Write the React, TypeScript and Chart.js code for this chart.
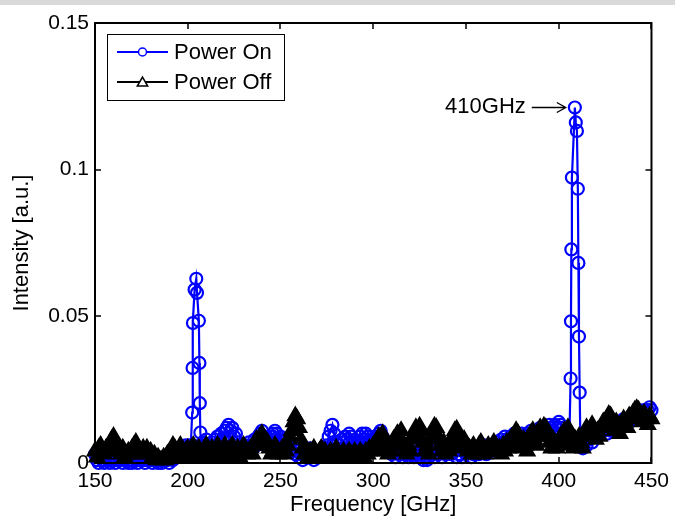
import React, { useEffect, useRef } from 'react';
import { Chart, registerables } from 'chart.js';

Chart.register(...registerables);

// ---- data ----
const FREQ_START = 150; // GHz, first sample of the regular grid
const FREQ_STEP = 1; // GHz between grid samples

// Power Off (black triangles), 150..450 GHz
const POWER_OFF = [
  // 150–200
  0.004, 0.002, 0.005, 0.006, 0.004, 0.003, 0.005, 0.004, 0.006, 0.008,
  0.009, 0.007, 0.006, 0.004, 0.003, 0.005, 0.002, 0.003, 0.004, 0.003,
  0.005, 0.006, 0.007, 0.005, 0.004, 0.003, 0.005, 0.004, 0.005, 0.003,
  0.004, 0.002, 0.003, 0.001, 0.002, 0.001, 0.001, 0.002, 0.001, 0.003,
  0.002, 0.004, 0.006, 0.005, 0.003, 0.004, 0.006, 0.003, 0.002, 0.004,
  0.005,
  // 201–250
  0.003, 0.005, 0.006, 0.002, 0.004, 0.005, 0.003, 0.002, 0.005, 0.006,
  0.004, 0.003, 0.005, 0.002, 0.004, 0.006, 0.005, 0.003, 0.004, 0.006,
  0.003, 0.002, 0.005, 0.006, 0.004, 0.003, 0.005, 0.002, 0.004, 0.006,
  0.005, 0.003, 0.004, 0.005, 0.003, 0.006, 0.008, 0.007, 0.009, 0.010,
  0.008, 0.006, 0.007, 0.005, 0.003, 0.004, 0.006, 0.005, 0.003, 0.004,
  // 251–300
  0.005, 0.003, 0.004, 0.006, 0.009, 0.011, 0.014, 0.016, 0.015, 0.012,
  0.008, 0.005, 0.003, 0.004, 0.002, 0.004, 0.003, 0.005, 0.003, 0.002,
  0.004, 0.005, 0.003, 0.004, 0.002, 0.003, 0.004, 0.002, 0.003, 0.005,
  0.004, 0.002, 0.003, 0.004, 0.002, 0.003, 0.004, 0.003, 0.002, 0.004,
  0.003, 0.002, 0.004, 0.003, 0.002, 0.004, 0.003, 0.005, 0.004, 0.006,
  // 301–350
  0.004, 0.007, 0.009, 0.006, 0.010, 0.008, 0.005, 0.003, 0.006, 0.004,
  0.008, 0.006, 0.010, 0.009, 0.011, 0.007, 0.004, 0.003, 0.006, 0.004,
  0.008, 0.010, 0.012, 0.009, 0.0125, 0.011, 0.007, 0.004, 0.006, 0.003,
  0.008, 0.011, 0.0125, 0.012, 0.009, 0.006, 0.004, 0.007, 0.003, 0.005,
  0.004, 0.006, 0.009, 0.011, 0.0115, 0.010, 0.007, 0.005, 0.008, 0.006,
  // 351–400
  0.004, 0.005, 0.003, 0.006, 0.004, 0.003, 0.006, 0.007, 0.005, 0.003,
  0.004, 0.006, 0.004, 0.005, 0.007, 0.006, 0.004, 0.005, 0.003, 0.006,
  0.004, 0.007, 0.005, 0.008, 0.009, 0.006, 0.011, 0.010, 0.007, 0.005,
  0.008, 0.006, 0.004, 0.009, 0.010, 0.011, 0.008, 0.006, 0.009, 0.012,
  0.011, 0.0125, 0.012, 0.009, 0.007, 0.005, 0.008, 0.006, 0.005, 0.007,
  // 401–450
  0.009, 0.006, 0.011, 0.009, 0.012, 0.010, 0.007, 0.005, 0.008, 0.006,
  0.009, 0.007, 0.005, 0.010, 0.012, 0.009, 0.011, 0.013, 0.010, 0.008,
  0.011, 0.009, 0.012, 0.014, 0.013, 0.015, 0.0165, 0.016, 0.013, 0.011,
  0.014, 0.012, 0.010, 0.013, 0.015, 0.014, 0.012, 0.016, 0.015, 0.017,
  0.018, 0.0185, 0.018, 0.016, 0.014, 0.017, 0.015, 0.013, 0.016, 0.015,
];

// Power On (blue circles) on the same grid; null where the finely sampled peaks take over
const POWER_ON_BASE = [
  // 150–200
  0.003, 0.001, 0.000, 0.002, 0.001, 0.000, 0.002, 0.001, 0.000, 0.001,
  0.002, 0.000, 0.001, 0.002, 0.001, 0.000, 0.001, 0.002, 0.000, 0.001,
  0.000, 0.002, 0.001, 0.000, 0.001, 0.002, 0.001, 0.000, 0.001, 0.002,
  0.001, 0.000, 0.002, 0.001, 0.000, 0.001, 0.000, 0.001, 0.002, 0.001,
  0.000, 0.002, 0.001, 0.003, 0.002, 0.004, 0.003, 0.005, 0.004, 0.006,
  0.005,
  // 201–250
  0.006, null, null, null, null, null, null, 0.007, 0.005, 0.008,
  0.006, 0.004, 0.007, 0.005, 0.008, 0.009, 0.007, 0.010, 0.008, 0.011,
  0.012, 0.013, 0.011, 0.012, 0.009, 0.010, 0.007, 0.005, 0.006, 0.004,
  0.006, 0.005, 0.007, 0.004, 0.006, 0.008, 0.006, 0.009, 0.010, 0.011,
  0.009, 0.007, 0.008, 0.006, 0.009, 0.010, 0.011, 0.010, 0.008, 0.009,
  // 251–300
  0.007, 0.006, 0.008, 0.005, 0.006, 0.004, 0.005, 0.003, 0.004, 0.002,
  0.003, 0.001, 0.003, 0.004, 0.002, 0.005, 0.003, 0.001, 0.002, 0.004,
  0.002, 0.003, 0.005, 0.004, 0.006, 0.009, 0.011, 0.013, 0.010, 0.007,
  0.005, 0.006, 0.008, 0.007, 0.009, 0.008, 0.010, 0.009, 0.007, 0.008,
  0.006, 0.007, 0.009, 0.010, 0.008, 0.010, 0.009, 0.007, 0.006, 0.008,
  // 301–350
  0.009, 0.007, 0.010, 0.011, 0.009, 0.007, 0.005, 0.006, 0.004, 0.003,
  0.005, 0.002, 0.004, 0.003, 0.005, 0.002, 0.003, 0.004, 0.002, 0.003,
  0.005, 0.002, 0.003, 0.004, 0.002, 0.003, 0.001, 0.002, 0.001, 0.002,
  0.003, 0.004, 0.002, 0.005, 0.003, 0.004, 0.002, 0.005, 0.003, 0.004,
  0.006, 0.003, 0.005, 0.004, 0.002, 0.003, 0.005, 0.002, 0.004, 0.003,
  // 351–400
  0.005, 0.004, 0.002, 0.003, 0.005, 0.004, 0.003, 0.005, 0.004, 0.006,
  0.003, 0.005, 0.004, 0.006, 0.005, 0.007, 0.005, 0.006, 0.008, 0.007,
  0.009, 0.008, 0.007, 0.009, 0.008, 0.010, 0.009, 0.008, 0.009, 0.010,
  0.008, 0.009, 0.010, 0.009, 0.011, 0.010, 0.009, 0.011, 0.010, 0.012,
  0.011, 0.010, 0.012, 0.011, 0.013, 0.012, 0.011, 0.013, 0.012, 0.014,
  // 401–450
  0.013, 0.012, 0.010, 0.011, 0.009, null, null, null, null, null,
  null, 0.006, 0.005, 0.007, 0.006, 0.008, 0.009, 0.007, 0.010, 0.009,
  0.011, 0.010, 0.012, 0.011, 0.013, 0.010, 0.012, 0.011, 0.013, 0.012,
  0.014, 0.013, 0.012, 0.014, 0.015, 0.013, 0.015, 0.014, 0.016, 0.015,
  0.017, 0.016, 0.018, 0.017, 0.016, 0.018, 0.017, 0.018, 0.019, 0.018,
];

// finely sampled Power On peaks
const PEAK1_FREQ = [201.6, 202.4, 202.6, 202.8, 203.7, 204.6, 205.0, 206.0, 206.3, 206.5, 206.8, 207.4];
const PEAK1_ON = [0.005, 0.0172, 0.0324, 0.0477, 0.0591, 0.0628, 0.058, 0.0485, 0.0341, 0.0204, 0.0104, 0.006];
const PEAK2_FREQ = [405.8, 406.4, 406.6, 406.8, 407.1, 408.7, 409.2, 409.8, 410.3, 410.6, 410.9, 411.3, 411.7];
const PEAK2_ON = [0.010, 0.0288, 0.0483, 0.0728, 0.0973, 0.1212, 0.1161, 0.1132, 0.0935, 0.0682, 0.0431, 0.024, 0.006];

const SERIES_LABELS = ['Power On', 'Power Off'];
const X_TICKS = [150, 200, 250, 300, 350, 400, 450];
const Y_TICKS = [0, 0.05, 0.1, 0.15];
const X_TITLE = 'Frequency [GHz]';
const Y_TITLE = 'Intensity [a.u.]';
const ANNOTATION_TEXT = '410GHz';
const ANNOTATION_TIP = { x: 403.8, y: 0.1212 }; // where the arrow points

// ---- styling ----
const FONT_FAMILY = '"Liberation Sans", Arial, Helvetica, sans-serif';
const BLUE = '#0000ff';
const BLACK = '#000000';

function buildOnPoints() {
  const pts: { x: number; y: number }[] = [];
  POWER_ON_BASE.forEach((v, i) => {
    if (v !== null) pts.push({ x: FREQ_START + i * FREQ_STEP, y: v as number });
  });
  PEAK1_FREQ.forEach((f, i) => pts.push({ x: f, y: PEAK1_ON[i] }));
  PEAK2_FREQ.forEach((f, i) => pts.push({ x: f, y: PEAK2_ON[i] }));
  pts.sort((a, b) => a.x - b.x);
  return pts;
}

function buildOffPoints() {
  return POWER_OFF.map((v, i) => ({ x: FREQ_START + i * FREQ_STEP, y: v }));
}

function drawTriangle(ctx: CanvasRenderingContext2D, x: number, y: number, r: number) {
  ctx.beginPath();
  for (let k = 0; k < 3; k++) {
    const a = (k * 2 * Math.PI) / 3;
    const px = x + Math.sin(a) * r;
    const py = y - Math.cos(a) * r;
    if (k === 0) ctx.moveTo(px, py);
    else ctx.lineTo(px, py);
  }
  ctx.closePath();
}

const overlayPlugin = {
  id: 'matlabOverlay',
  afterDraw(chart: any) {
    const { ctx, chartArea: a, scales } = chart;
    const xs = scales.x;
    const ys = scales.y;
    ctx.save();

    // axes box
    ctx.strokeStyle = BLACK;
    ctx.lineWidth = 2;
    ctx.strokeRect(a.left, a.top, a.right - a.left, a.bottom - a.top);

    // inward tick marks on all four sides
    const TL = 6;
    ctx.lineWidth = 1.5;
    ctx.beginPath();
    X_TICKS.forEach((v) => {
      const x = Math.round(xs.getPixelForValue(v));
      ctx.moveTo(x, a.bottom);
      ctx.lineTo(x, a.bottom - TL);
      ctx.moveTo(x, a.top);
      ctx.lineTo(x, a.top + TL);
    });
    Y_TICKS.forEach((v) => {
      const y = Math.round(ys.getPixelForValue(v));
      ctx.moveTo(a.left, y);
      ctx.lineTo(a.left + TL, y);
      ctx.moveTo(a.right, y);
      ctx.lineTo(a.right - TL, y);
    });
    ctx.stroke();

    // legend
    const bx = a.left + 12;
    const by = a.top + 11;
    const bw = 177;
    const bh = 66;
    ctx.fillStyle = '#ffffff';
    ctx.fillRect(bx, by, bw, bh);
    ctx.strokeStyle = BLACK;
    ctx.lineWidth = 1;
    ctx.strokeRect(bx + 0.5, by + 0.5, bw, bh);
    const rows = [by + 18, by + 48];
    ctx.font = `22px ${FONT_FAMILY}`;
    ctx.textBaseline = 'middle';
    ctx.textAlign = 'left';
    chart.data.datasets.forEach((ds: any, i: number) => {
      const y = rows[i];
      ctx.strokeStyle = ds.borderColor;
      ctx.lineWidth = 2;
      ctx.beginPath();
      ctx.moveTo(bx + 10, y);
      ctx.lineTo(bx + 61, y);
      ctx.stroke();
      ctx.fillStyle = '#ffffff';
      ctx.lineWidth = 1.5;
      if (ds.pointStyle === 'triangle') {
        drawTriangle(ctx, bx + 35.5, y + 1, 6);
      } else {
        ctx.beginPath();
        ctx.arc(bx + 35.5, y, 4, 0, Math.PI * 2);
      }
      ctx.fill();
      ctx.stroke();
      ctx.fillStyle = BLACK;
      ctx.fillText(ds.label, bx + 67, y + 1);
    });

    // annotation with arrow
    const tx = xs.getPixelForValue(ANNOTATION_TIP.x);
    const ty = ys.getPixelForValue(ANNOTATION_TIP.y);
    ctx.strokeStyle = BLACK;
    ctx.lineWidth = 1.3;
    ctx.beginPath();
    ctx.moveTo(tx - 34, ty);
    ctx.lineTo(tx, ty);
    ctx.moveTo(tx - 9, ty - 5);
    ctx.lineTo(tx, ty);
    ctx.lineTo(tx - 9, ty + 5);
    ctx.stroke();
    ctx.fillStyle = BLACK;
    ctx.textAlign = 'right';
    ctx.textBaseline = 'middle';
    ctx.font = `22px ${FONT_FAMILY}`;
    ctx.fillText(ANNOTATION_TEXT, tx - 40, ty - 1);

    ctx.restore();
  },
};

export default function App() {
  const canvasRef = useRef<HTMLCanvasElement | null>(null);

  useEffect(() => {
    if (!canvasRef.current) return;
    const tickFont = { family: FONT_FAMILY, size: 21 };
    const titleFont = { family: FONT_FAMILY, size: 22 };
    const chart = new Chart(canvasRef.current, {
      type: 'line',
      data: {
        datasets: [
          {
            label: SERIES_LABELS[0],
            data: buildOnPoints(),
            borderColor: BLUE,
            borderWidth: 2.2,
            pointStyle: 'circle',
            pointRadius: 6,
            pointBorderWidth: 2.2,
            pointBorderColor: BLUE,
            pointBackgroundColor: 'rgba(0,0,0,0)',
            tension: 0,
            clip: false,
            order: 2,
          },
          {
            label: SERIES_LABELS[1],
            data: buildOffPoints(),
            borderColor: BLACK,
            borderWidth: 2,
            pointStyle: 'triangle',
            pointRadius: 9,
            pointBorderWidth: 1.5,
            pointBorderColor: BLACK,
            pointBackgroundColor: BLACK,
            tension: 0,
            clip: false,
            order: 1,
          },
        ],
      } as any,
      options: {
        animation: false,
        responsive: false,
        devicePixelRatio: 1,
        events: [],
        layout: { padding: { left: 0, right: 21, top: 23, bottom: 0 } },
        plugins: { legend: { display: false }, tooltip: { enabled: false } },
        scales: {
          x: {
            type: 'linear',
            min: 150,
            max: 450,
            afterBuildTicks: (s: any) => {
              s.ticks = X_TICKS.map((v) => ({ value: v }));
            },
            afterFit: (s: any) => {
              s.height = 57;
            },
            grid: { display: false, drawTicks: false },
            border: { display: false },
            ticks: {
              font: tickFont,
              color: BLACK,
              padding: 6,
              maxRotation: 0,
              autoSkip: false,
              callback: (v: any) => String(v),
            },
            title: {
              display: true,
              text: X_TITLE,
              font: titleFont,
              color: BLACK,
              padding: { top: 0, bottom: 2 },
            },
          },
          y: {
            type: 'linear',
            min: 0,
            max: 0.15,
            afterBuildTicks: (s: any) => {
              s.ticks = Y_TICKS.map((v) => ({ value: v }));
            },
            afterFit: (s: any) => {
              s.width = 95;
            },
            grid: { display: false, drawTicks: false },
            border: { display: false },
            ticks: {
              font: tickFont,
              color: BLACK,
              padding: 6,
              autoSkip: false,
              callback: (v: any) => String(+Number(v).toFixed(2)),
            },
            title: {
              display: true,
              text: Y_TITLE,
              font: titleFont,
              color: BLACK,
              padding: { top: 9, bottom: 0 },
            },
          },
        },
      } as any,
      plugins: [overlayPlugin],
    });
    return () => chart.destroy();
  }, []);

  return (
    <div style={{ position: 'absolute', left: 0, top: 0, width: 675, height: 520, background: '#ffffff' }}>
      <canvas ref={canvasRef} width={675} height={520} style={{ display: 'block', width: 675, height: 520 }} />
      <div style={{ position: 'absolute', left: 0, top: 0, width: 675, height: 5, background: '#d9d9d9' }} />
    </div>
  );
}
